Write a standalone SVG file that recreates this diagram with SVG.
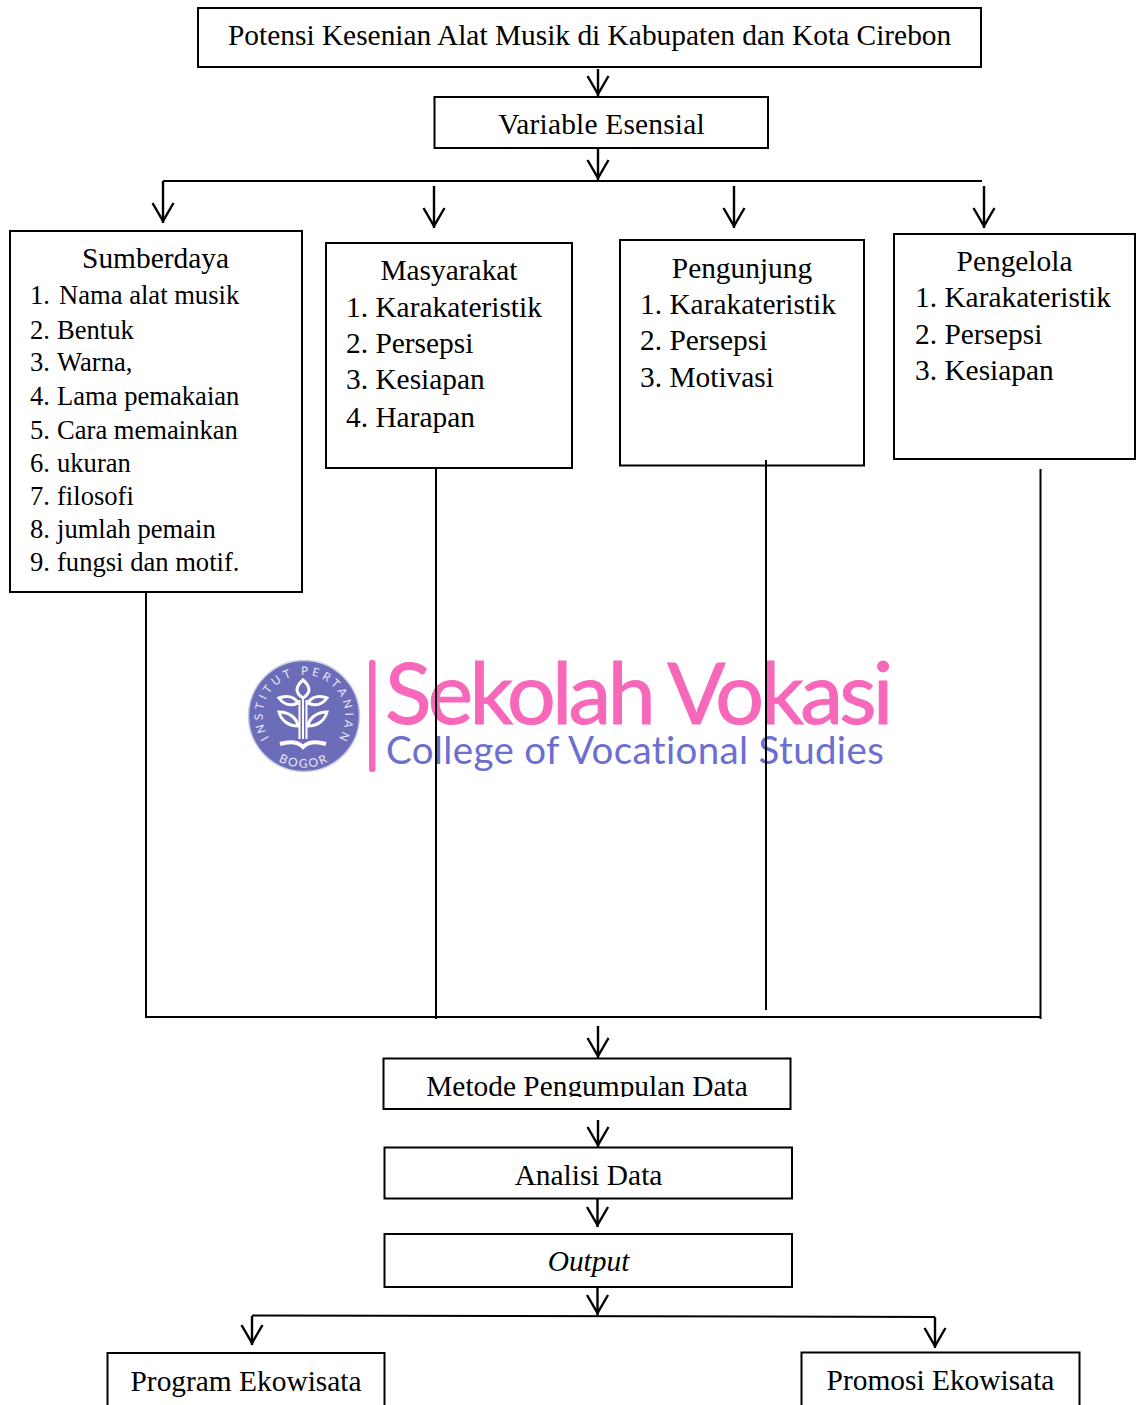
<svg xmlns="http://www.w3.org/2000/svg" width="1140" height="1405" viewBox="0 0 1140 1405">
<style>
.b{fill:none;stroke:#000;stroke-width:2}
text{font-family:"Liberation Serif","Times New Roman",serif;fill:#000}
.t{font-size:29.4px}
.c{text-anchor:middle}
.s{font-size:26.6px}
.l{fill:none;stroke:#000;stroke-width:2}
.a{fill:none;stroke:#000;stroke-width:2.4;marker-end:url(#v)}
.lg{fill:none;stroke:#fff;stroke-width:3}
.ring{font-family:"Lato","Noto Sans",sans-serif;font-size:11.5px;fill:#e8e8f8}
</style>
<defs>
<marker id="v" markerUnits="userSpaceOnUse" markerWidth="26" markerHeight="26" refX="21" refY="12" orient="auto" viewBox="0 0 26 26"><path d="M1,1.500 L19,12 L1,22.500" fill="none" stroke="#000" stroke-width="2.4"/></marker>
<clipPath id="mc"><rect x="384" y="1059" width="406" height="38"/></clipPath>
<path id="ringTop" d="M269,738 A41.300,41.300 0 1 1 339,738"/>
<path id="ringBot" d="M265,750 A51.700,51.700 0 0 0 343,750"/>
</defs>
<g id="logo">
<circle cx="304" cy="716" r="55.500" fill="#6c6cb8" stroke="#c9c9e6" stroke-width="1.500"/>
<text class="ring"><textPath href="#ringTop" textLength="176" lengthAdjust="spacing">INSTITUT PERTANIAN</textPath></text>
<text class="ring c" style="font-size:12px;letter-spacing:2px"><textPath href="#ringBot" startOffset="50%">BOGOR</textPath></text>
<path class="lg" d="M303,680 C295,687 295,693 303,698 C311,693 311,687 303,680Z"/>
<path class="lg" d="M279,698 C288,695 295,697 298,703 C291,706 284,705 279,698Z M327,698 C318,695 311,697 308,703 C315,706 322,705 327,698Z"/>
<path class="lg" d="M279,712 C289,712 297,718 298,726 C288,726 281,720 279,712Z M327,712 C317,712 309,718 308,726 C318,726 325,720 327,712Z"/>
<path d="M299.500,700V739M303,697V739M306.500,700V739" fill="none" stroke="#fff" stroke-width="2"/>
<path d="M280,744 C290,741 298,742 303,747 C308,742 316,741 326,744" fill="none" stroke="#fff" stroke-width="4"/>
<rect x="369" y="660" width="6.500" height="112" rx="2.500" fill="#f768ba"/>
<text x="385" y="724" style="font-family:Lato,sans-serif;font-size:86px;letter-spacing:-3.7px;fill:#f768ba;stroke:#f768ba;stroke-width:1">Sekolah Vokasi</text>
<text x="386" y="764" style="font-family:Lato,sans-serif;font-size:38.5px;letter-spacing:.35px;fill:#6c6fd0">College of Vocational Studies</text>
</g>
<g id="connectors">
<path class="l" d="M163,181H982"/>
<path class="a" d="M598,69V96"/>
<path class="a" d="M598,149V180"/>
<path class="a" d="M163,181V223"/>
<path class="a" d="M434,186V228"/>
<path class="a" d="M734,186V228"/>
<path class="a" d="M984,186V228"/>
<path class="l" d="M146,593V1017H1041M436,469V1019M766,460V1010M1040.500,469V1019"/>
<path class="a" d="M598,1026V1058"/>
<path class="a" d="M598,1120V1147"/>
<path class="a" d="M597.500,1199V1227"/>
<path class="a" d="M597.500,1288V1315"/>
<path class="l" d="M252,1315.500L935,1317"/>
<path class="a" d="M252,1316V1345"/>
<path class="a" d="M935,1317V1348"/>
</g>
<g id="n1"><rect class="b" x="198" y="8" width="783" height="59"/><text class="t" x="228" y="45">Potensi Kesenian Alat Musik di Kabupaten dan Kota Cirebon</text></g>
<g id="n2"><rect class="b" x="434.500" y="97" width="333.500" height="51"/><text class="t c" x="601.500" y="134" style="letter-spacing:.2px">Variable Esensial</text></g>
<g id="n3"><rect class="b" x="10" y="231" width="292" height="361"/>
<text class="t c" x="155.500" y="268">Sumberdaya</text>
<text class="s" x="30" y="304">1.<tspan x="59">Nama alat musik</tspan></text>
<text class="s" x="30" y="339">2.<tspan x="57">Bentuk</tspan></text>
<text class="s" x="30" y="371">3.<tspan x="57">Warna,</tspan></text>
<text class="s" x="30" y="405">4.<tspan x="57">Lama pemakaian</tspan></text>
<text class="s" x="30" y="439">5.<tspan x="57">Cara memainkan</tspan></text>
<text class="s" x="30" y="472">6.<tspan x="57">ukuran</tspan></text>
<text class="s" x="30" y="505">7.<tspan x="57">filosofi</tspan></text>
<text class="s" x="30" y="538">8.<tspan x="57">jumlah pemain</tspan></text>
<text class="s" x="30" y="571">9.<tspan x="57">fungsi dan motif.</tspan></text></g>
<g id="n4"><rect class="b" x="326" y="243" width="246" height="225"/>
<text class="t c" x="449" y="280">Masyarakat</text>
<text class="t" x="346" y="317">1. Karakateristik</text>
<text class="t" x="346" y="353">2. Persepsi</text>
<text class="t" x="346" y="389">3. Kesiapan</text>
<text class="t" x="346" y="427">4. Harapan</text></g>
<g id="n5"><rect class="b" x="620" y="240" width="244" height="225.500"/>
<text class="t c" x="742" y="278">Pengunjung</text>
<text class="t" x="640" y="314">1. Karakateristik</text>
<text class="t" x="640" y="350">2. Persepsi</text>
<text class="t" x="640" y="387">3. Motivasi</text></g>
<g id="n6"><rect class="b" x="894" y="234" width="241" height="225"/>
<text class="t c" x="1014.500" y="271">Pengelola</text>
<text class="t" x="915" y="307">1. Karakateristik</text>
<text class="t" x="915" y="344">2. Persepsi</text>
<text class="t" x="915" y="380">3. Kesiapan</text></g>
<g id="n7"><rect class="b" x="383.500" y="1058.500" width="407" height="50.500"/><text class="t c" x="587" y="1096" clip-path="url(#mc)">Metode Pengumpulan Data</text></g>
<g id="n8"><rect class="b" x="384.500" y="1147.500" width="407.500" height="51"/><text class="t c" x="588.500" y="1185">Analisi Data</text></g>
<g id="n9"><rect class="b" x="384.500" y="1234" width="407.500" height="53"/><text class="t c" x="588.500" y="1271" font-style="italic">Output</text></g>
<g id="n10"><rect class="b" x="107.500" y="1353" width="277" height="60"/><text class="t c" x="246" y="1391">Program Ekowisata</text></g>
<g id="n11"><rect class="b" x="801.500" y="1352.500" width="278" height="60"/><text class="t c" x="940.500" y="1390">Promosi Ekowisata</text></g>
</svg>
